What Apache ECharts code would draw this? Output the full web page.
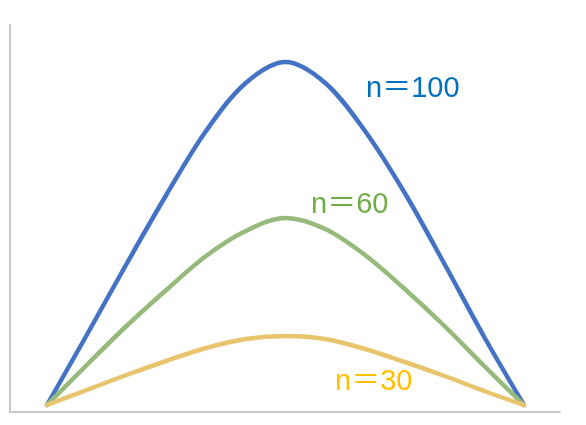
<!DOCTYPE html>
<html>
<head>
<meta charset="utf-8">
<script src="https://cdn.jsdelivr.net/npm/echarts@6/dist/echarts.min.js"></script>
<style>
  html, body { margin: 0; padding: 0; background: #fff; }
  #chart { width: 586px; height: 425px; }
</style>
</head>
<body>
<div id="chart"></div>
<script>
// sample positions along the curve (0 .. 12)
var xs = [0, 1, 2, 3, 4, 5, 6, 7, 8, 9, 10, 11, 12];
// values
var n100 = [0, 70, 141, 210, 274, 322, 343, 322, 274, 212, 141, 68, 0];
var n60 = [0, 40, 79, 115, 149, 174, 187, 176, 150, 116, 79, 39, 0];
var n30 = [0, 15, 30, 44, 57, 66, 69, 66, 56, 43, 29, 14, 0];
var names = ["n＝100", "n＝60", "n＝30"];

function pairs(vals) {
  return xs.map(function (x, i) {
    return [x, vals[i]];
  });
}

var chart = echarts.init(document.getElementById("chart"));
var axisLine = { show: true, onZero: false, lineStyle: { color: "#C8C8C8", width: 2 } };
var lineSeries = function (name, vals, color) {
  return {
    type: "line",
    name: name,
    data: pairs(vals),
    smooth: 0.33,
    showSymbol: false,
    lineStyle: { color: color, width: 4.5, cap: "round" },
  };
};
var labelFont = "'Liberation Sans', Arial, 'Noto Sans CJK JP', sans-serif";

var option = {
  animation: false,
  backgroundColor: "#fff",
  grid: { left: 10, right: 26, top: 25, bottom: 13 },
  xAxis: {
    type: "value",
    min: -0.931,
    max: 12.906,
    axisLine: axisLine,
    axisTick: { show: false },
    axisLabel: { show: false },
    splitLine: { show: false },
  },
  yAxis: {
    type: "value",
    min: -7,
    max: 380,
    axisLine: axisLine,
    axisTick: { show: false },
    axisLabel: { show: false },
    splitLine: { show: false },
  },
  graphic: [
    { type: "text", left: 366, top: 74, style: { text: names[0], fill: "#0070C0", font: "29px " + labelFont } },
    { type: "text", left: 311, top: 190, style: { text: names[1], fill: "#70AD47", font: "29px " + labelFont } },
    { type: "text", left: 335, top: 367, style: { text: names[2], fill: "#FFC000", font: "29px " + labelFont } },
  ],
  series: [
    lineSeries(names[0], n100, "#4472C4"),
    lineSeries(names[1], n60, "#95BA7C"),
    lineSeries(names[2], n30, "#E8C46C"),
  ],
};
chart.setOption(option);
</script>
</body>
</html>
